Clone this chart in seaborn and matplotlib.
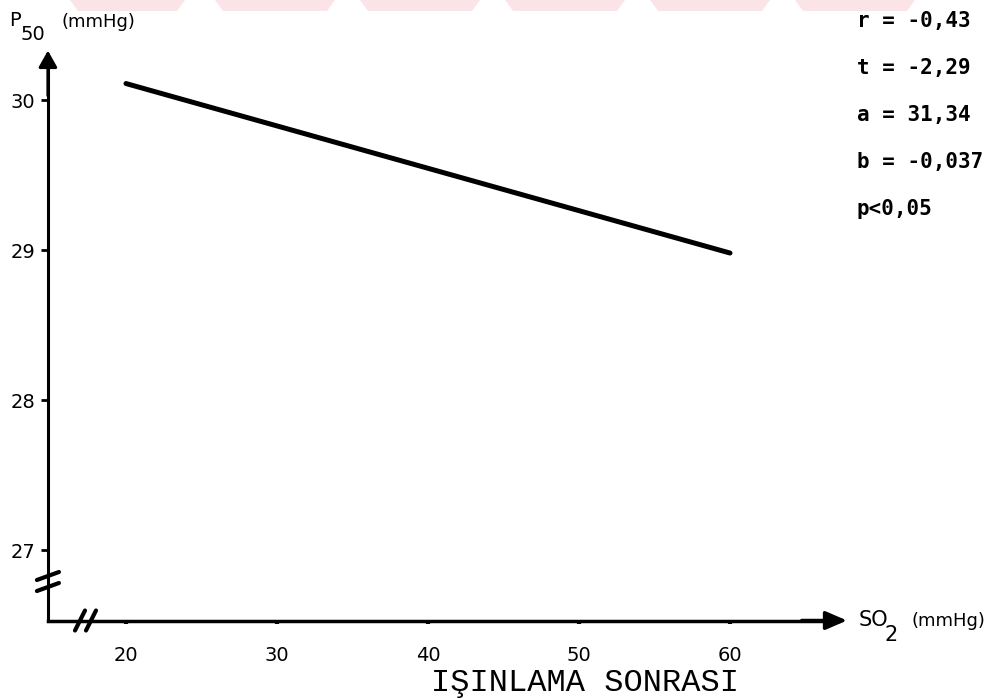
import matplotlib
matplotlib.use("Agg")
import matplotlib.pyplot as plt
from matplotlib.patches import Polygon
import seaborn as sns
import pandas as pd

# ---- data ----
so2 = [20, 60]
p50 = [30.11, 28.98]
x_ticks = [20, 30, 40, 50, 60]
y_ticks = [27, 28, 29, 30]
stats_lines = ["r = -0,43", "t = -2,29", "a = 31,34", "b = -0,037", "p<0,05"]
title_text = "IŞINLAMA SONRASI"
y_label_main, y_label_sub, unit = "P", "50", "(mmHg)"
x_label_main, x_label_sub = "SO", "2"

sns.set_theme(style="ticks")
plt.rcParams["font.family"] = ["DejaVu Sans"]

W, H = 995, 700
fig = plt.figure(figsize=(W / 100, H / 100), dpi=100)
fig.patch.set_facecolor("white")


def fx(px):
    return px / W


def fy(row):
    return 1 - row / H


# faint pink scan artifacts along the top edge
for xa, xb in [(70, 185), (215, 335), (360, 480), (505, 625), (650, 770), (795, 915)]:
    fig.patches.append(Polygon([(fx(xa), fy(0)), (fx(xb), fy(0)), (fx(xb - 8), fy(11)), (fx(xa + 8), fy(11))],
                               closed=True, transform=fig.transFigure, facecolor="#fbe4e7",
                               edgecolor="none", zorder=0))

ax = fig.add_axes([0, 0, 1, 1])
ax.set_facecolor("none")
ax.set_xlim(11.656, 77.55)
ax.set_ylim(26.0, 30.667)

x0, y0 = 14.83, 26.53       # axis origin (data units)
x_end, y_end = 67.75, 30.33  # arrow tips

df = pd.DataFrame({"SO2": so2, "P50": p50})
sns.lineplot(data=df, x="SO2", y="P50", color="black", lw=3.6, ax=ax)
ax.lines[-1].set_solid_capstyle("round")

for s in ["top", "right"]:
    ax.spines[s].set_visible(False)
ax.spines["left"].set_position(("data", x0))
ax.spines["left"].set_bounds(y0, y_end - 0.05)
ax.spines["left"].set_linewidth(2.2)
ax.spines["left"].set_color("black")
ax.spines["bottom"].set_position(("data", y0))
ax.spines["bottom"].set_bounds(x0, x_end - 0.6)
ax.spines["bottom"].set_linewidth(2.5)
ax.spines["bottom"].set_color("black")
ax.set_xlabel("")
ax.set_ylabel("")

ax.set_xticks(x_ticks)
ax.set_xticklabels([str(v) for v in x_ticks])
ax.set_yticks(y_ticks)
ax.set_yticklabels([str(v) for v in y_ticks])
ax.tick_params(axis="x", bottom=True, direction="out", length=2, width=3, pad=16,
               labelsize=14, colors="black")
ax.tick_params(axis="y", left=True, direction="out", length=5, width=2, pad=4,
               labelsize=14, colors="black")

# arrowheads
ax.annotate("", xy=(x0, y_end), xytext=(x0, y_end - 0.3),
            arrowprops=dict(arrowstyle="-|>,head_length=0.5,head_width=0.28", color="black",
                            lw=2.2, shrinkA=0, shrinkB=0, mutation_scale=20))
ax.annotate("", xy=(x_end, y0), xytext=(x_end - 3, y0),
            arrowprops=dict(arrowstyle="-|>,head_length=0.65,head_width=0.28", color="black",
                            lw=2.5, shrinkA=0, shrinkB=0, mutation_scale=20))

# axis break marks
px_x = 1 / 15.1    # data units per pixel in x
px_y = 1 / 150.0   # data units per pixel in y
for row in [576, 587]:
    yc = 30 - (row - 100) * px_y
    ax.plot([x0 - 11 * px_x, x0 + 11 * px_x], [yc - 4 * px_y, yc + 4 * px_y],
            color="black", lw=3, solid_capstyle="round")
for col in [80, 91]:
    xc = 20 - (126 - col) * px_x
    ax.plot([xc - 5 * px_x, xc + 5 * px_x], [y0 - 10 * px_y, y0 + 10 * px_y],
            color="black", lw=3, solid_capstyle="round")

# axis titles
fig.text(fx(9), fy(20), y_label_main, fontsize=14, ha="left", va="center", color="black")
fig.text(fx(21), fy(35), y_label_sub, fontsize=14, ha="left", va="center", color="black")
fig.text(fx(62), fy(22), unit, fontsize=13, ha="left", va="center", color="black")

fig.text(fx(859), fy(620), x_label_main, fontsize=15, ha="left", va="center", color="black")
fig.text(fx(884), fy(635), x_label_sub, fontsize=15, ha="left", va="center", color="black")
fig.text(fx(912), fy(621), unit, fontsize=13, ha="left", va="center", color="black")

# statistics block
for i, line in enumerate(stats_lines):
    fig.text(fx(857), fy(21 + i * 47), line, fontsize=15, family="DejaVu Sans Mono",
             fontweight="bold", ha="left", va="center", color="black")

fig.text(fx(585), fy(683), title_text, fontsize=23, family="Liberation Mono",
         ha="center", va="center", color="black")

fig.savefig("out.png", dpi=100, facecolor="white")
